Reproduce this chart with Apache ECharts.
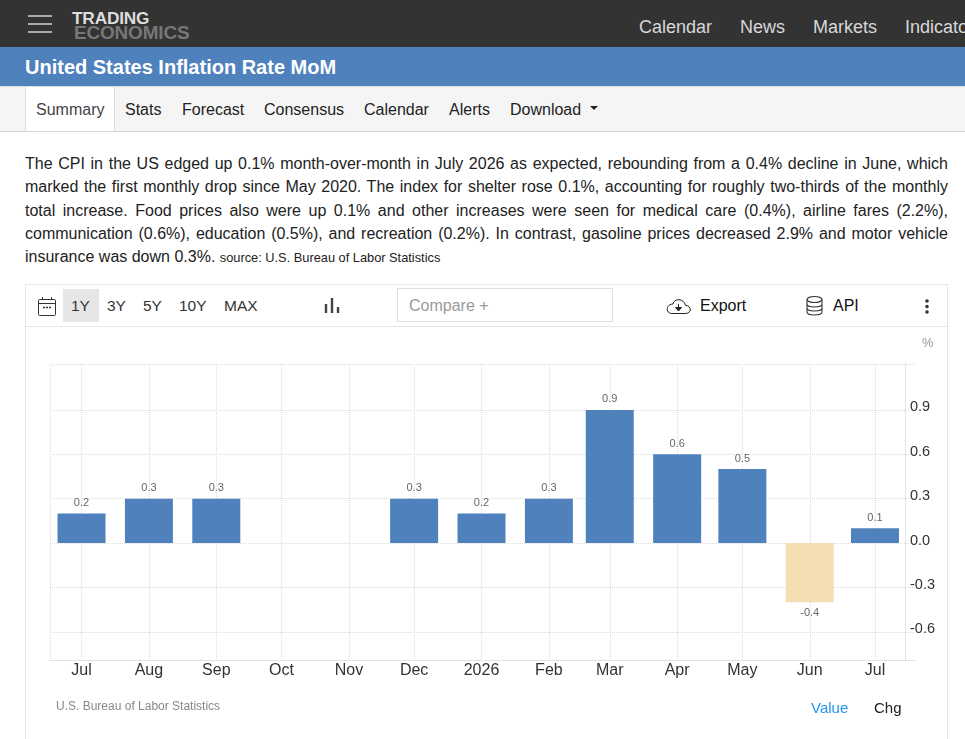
<!DOCTYPE html>
<html><head><meta charset="utf-8">
<script src="https://cdn.jsdelivr.net/npm/echarts@6/dist/echarts.min.js"></script>
<style>
html,body{margin:0;padding:0;width:965px;height:739px;overflow:hidden;background:#fff;font-family:"Liberation Sans",Arial,sans-serif;color:#222}
.abs{position:absolute;white-space:nowrap}
#top{left:0;top:0;width:965px;height:47px;background:#333}
.burger{left:28px;width:24px;height:2px;background:#aaa}
.mn{top:17px;font-size:18px;line-height:20px;color:#d8d8d8}
#band{left:0;top:47px;width:965px;height:39px;background:#4f81bd;color:#fff;font-weight:bold;font-size:20px;line-height:41px;text-indent:25px}
#nav{left:0;top:86px;width:965px;height:44px;background:#f5f5f5;border-top:1px solid #ddd;border-bottom:1px solid #d5d5d5}
#tab{left:25px;top:87px;width:88px;height:44px;background:#fff;border-left:1px solid #ddd;border-right:1px solid #ddd}
.nv{top:100px;font-size:16px;line-height:20px;color:#222}
#para{left:25px;top:152px;width:923px;font-size:16px;line-height:23.3px;text-align:justify;color:#222}
#para small{font-size:12.8px}
#panel{left:25px;top:284px;width:921px;height:470px;border:1px solid #e6e6e6;border-bottom:0}
#bar{left:26px;top:326px;width:921px;height:1px;background:#e6e6e6}
#sel{left:63px;top:289px;width:36px;height:33px;background:#e6e6e6}
.rg{top:297px;font-size:15.5px;line-height:18px;color:#333}
#cmp{left:397px;top:288px;width:214px;height:32px;border:1px solid #e0e0d8;font-size:16px;line-height:34px;color:#999;text-indent:11px}
.tl{top:296px;font-size:16px;line-height:20px;color:#111}
svg{position:absolute;overflow:visible}
#chart{position:absolute;left:0;top:0;width:965px;height:739px}
</style></head>
<body>
<div class="abs" id="top"></div>
<div class="abs burger" style="top:15px"></div><div class="abs burger" style="top:23px"></div><div class="abs burger" style="top:31px"></div>
<div class="abs" style="left:72px;top:10px;font-size:17.3px;line-height:17px;font-weight:bold;color:#ddd;letter-spacing:-.2px">TRADING</div>
<div class="abs" style="left:74px;top:24px;font-size:19px;line-height:18px;font-weight:bold;color:#777;letter-spacing:-.2px">ECONOMICS</div>
<div class="abs mn" style="left:639px">Calendar</div><div class="abs mn" style="left:740px">News</div><div class="abs mn" style="left:813px">Markets</div><div class="abs mn" style="left:905px">Indicators</div>
<div class="abs" id="band">United States Inflation Rate MoM</div>
<div class="abs" id="nav"></div><div class="abs" id="tab"></div>
<div class="abs nv" style="left:36px;color:#444">Summary</div><div class="abs nv" style="left:125px">Stats</div><div class="abs nv" style="left:182px">Forecast</div><div class="abs nv" style="left:264px">Consensus</div><div class="abs nv" style="left:364px">Calendar</div><div class="abs nv" style="left:449px">Alerts</div><div class="abs nv" style="left:510px">Download</div>
<svg style="left:590px;top:106px" width="9" height="5"><path d="M0 0H8L4 4Z" fill="#222"/></svg>
<div class="abs" id="para" style="white-space:normal">The CPI in the US edged up 0.1% month-over-month in July 2026 as expected, rebounding from a 0.4% decline in June, which marked the first monthly drop since May 2020. The index for shelter rose 0.1%, accounting for roughly two-thirds of the monthly total increase. Food prices also were up 0.1% and other increases were seen for medical care (0.4%), airline fares (2.2%), communication (0.6%), education (0.5%), and recreation (0.2%). In contrast, gasoline prices decreased 2.9% and motor vehicle insurance was down 0.3%. <small>source: U.S. Bureau of Labor Statistics</small></div>
<div class="abs" id="panel"></div><div class="abs" id="bar"></div><div class="abs" id="sel"></div>
<svg style="left:38px;top:296px" width="18" height="20" fill="none" stroke="#333" stroke-width="1"><rect x=".5" y="3.5" width="17" height="16" rx="1"/><path d="M.5 7.5H17.5M4.5 1V4M13.5 1V4"/><path d="M5 11.5H7M8 11.5H10M11 11.5H13" stroke-width="1.4"/></svg>
<div class="abs rg" style="left:71px">1Y</div><div class="abs rg" style="left:107px">3Y</div><div class="abs rg" style="left:143px">5Y</div><div class="abs rg" style="left:179px">10Y</div><div class="abs rg" style="left:224px">MAX</div>
<svg style="left:325px;top:297px" width="15" height="16"><path d="M1 7V16M7 1V16M13 10V16" stroke="#444" stroke-width="2.4" fill="none"/></svg>
<div class="abs" id="cmp">Compare +</div>
<svg style="left:666px;top:297px" width="25" height="18" fill="none" stroke="#222" stroke-width="1"><path d="M6 16.5H19C27 16.500 25 8 19.500 8.500C18 1 8 1 7 7C0 7 -1 16.500 6 16.500Z"/><path d="M12.500 7V13M9.500 10.500L12.500 14L15.500 10.500Z" fill="#222"/></svg>
<div class="abs tl" style="left:700px">Export</div>
<svg style="left:806px;top:296px" width="17" height="20" fill="none" stroke="#333" stroke-width="1.1"><ellipse cx="8.500" cy="3.500" rx="7.500" ry="3"/><path d="M1 3.500V16C1 20 16 20 16 16V3.500M1 8C1 12 16 12 16 8M1 12C1 16 16 16 16 12"/></svg>
<div class="abs tl" style="left:833px">API</div>
<svg style="left:925px;top:299px" width="4" height="15"><circle cx="2" cy="2" r="1.800" fill="#333"/><circle cx="2" cy="7.500" r="1.800" fill="#333"/><circle cx="2" cy="13" r="1.800" fill="#333"/></svg>
<div id="chart"></div>
<script>
const dates = ['2025-07-01','2025-08-01','2025-09-01','2025-12-01','2026-01-01','2026-02-01','2026-03-01','2026-04-01','2026-05-01','2026-06-01','2026-07-01'];
const values = [0.2,0.3,0.3,0.3,0.2,0.3,0.9,0.6,0.5,-0.4,0.1];
const tickDates = ['2025-07-01','2025-08-01','2025-09-01','2025-10-01','2025-11-01','2025-12-01','2026-01-01','2026-02-01','2026-03-01','2026-04-01','2026-05-01','2026-06-01','2026-07-01'];
const tickLabels = ['Jul','Aug','Sep','Oct','Nov','Dec','2026','Feb','Mar','Apr','May','Jun','Jul'];
const yTicks = [-0.6,-0.3,0,0.3,0.6,0.9];
const yLines = [-0.6,-0.3,0,0.3,0.6,0.9,1.21];
const xStart = '2025-06-16T12:00:00', xEnd = '2026-07-19T10:00:00';
const BLUE='#4f81bd', WHEAT='#f5deb3';
const ts = d => new Date(d).getTime();
const tickTs = tickDates.map(ts);
const chart = echarts.init(document.getElementById('chart'), null, {renderer:'canvas'});
const FONT='"Liberation Sans",Arial,sans-serif';
chart.setOption({
  animation:false,
  backgroundColor:'transparent',
  grid:{left:50,right:50,top:364,bottom:79,containLabel:false},
  xAxis:{type:'value',scale:true,min:ts(xStart),max:ts(xEnd),
    axisLine:{onZero:false,lineStyle:{color:'#e2e2e2',width:1}},
    axisTick:{show:false,customValues:[ts(xStart)].concat(tickTs)},
    splitLine:{show:true,lineStyle:{type:'dotted',color:'#dcdcdc',width:1}},
    axisLabel:{customValues:tickTs,hideOverlap:false,showMinLabel:true,showMaxLabel:true,margin:3,fontSize:16,fontFamily:FONT,color:'#333',
      formatter:v=>tickLabels[tickTs.indexOf(v)]||''}},
  yAxis:{type:'value',position:'right',offset:-10,min:-0.79,max:1.21,
    axisLine:{show:true,onZero:false,lineStyle:{color:'#e2e2e2',width:1}},
    axisTick:{show:false,customValues:yLines},
    splitLine:{show:true,lineStyle:{type:'dotted',color:'#dcdcdc',width:1}},
    axisLabel:{customValues:yTicks,margin:5,fontSize:14.500,fontFamily:FONT,color:'#333',align:'left',verticalAlign:'bottom',lineHeight:5,
      formatter:v=>(+v).toFixed(1)}},
  series:[{type:'bar',barWidth:48,
    data:dates.map((d,i)=>({value:[ts(d),values[i]],
      itemStyle:{color:values[i]<0?WHEAT:BLUE},
      label:{position:values[i]<0?'bottom':'top'}})),
    label:{show:true,distance:5,fontSize:11,fontFamily:FONT,color:'#666',formatter:p=>p.value[1].toFixed(1)}}],
  graphic:[
    {type:'text',left:922,top:337,style:{text:'%',fontSize:13,fontFamily:FONT,fill:'#a08f80'}},
    {type:'text',left:56,top:701,style:{text:'U.S. Bureau of Labor Statistics',fontSize:12,fontFamily:FONT,fill:'#888'}},
    {type:'text',left:811,top:701,style:{text:'Value',fontSize:15,fontFamily:FONT,fill:'#2196f3'}},
    {type:'text',left:874,top:701,style:{text:'Chg',fontSize:15,fontFamily:FONT,fill:'#222'}}
  ]
});
</script>
</body></html>
